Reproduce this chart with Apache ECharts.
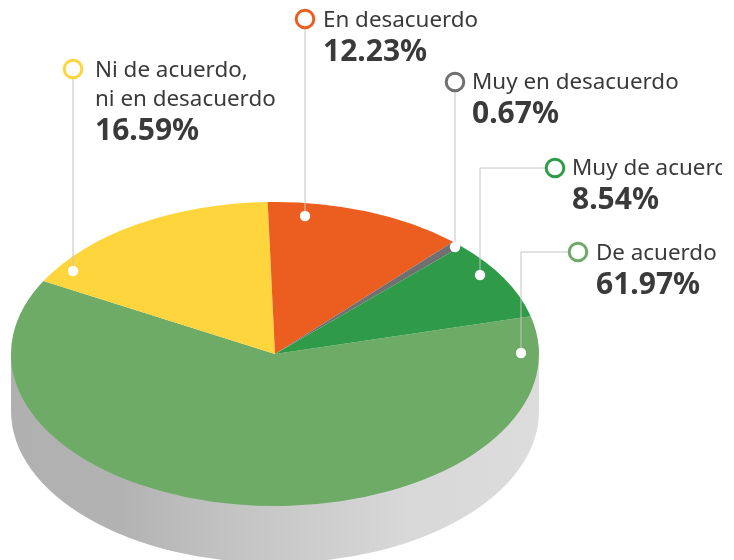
<!DOCTYPE html>
<html>
<head>
<meta charset="utf-8">
<style>
    html, body {margin: 0; padding: 0; background: #fff;}
    #main {width: 734px; height: 560px;}
</style>
<script src="https://cdn.jsdelivr.net/npm/echarts@6/dist/echarts.min.js"></script>
</head>
<body>
<div id="main"></div>
<script>
var categories = ['De acuerdo', 'Ni de acuerdo,\nni en desacuerdo', 'En desacuerdo', 'Muy en desacuerdo', 'Muy de acuerdo'];
var shares = [61.97, 16.59, 12.23, 0.67, 8.54];
var colors = ['#6dab66', '#ffd53d', '#eb5e20', '#707070', '#2f9a48'];

// disco: centro, radios de la elipse y grosor
var cx = 275, cy = 354, rx = 264, ry = 152, depth = 57;
var startDeg = -14.4;

// leader: aro -> (codo) -> punto blanco, en el mismo orden que categories
var callouts = [
    {ring: [578, 252], elbow: [521, 252], dot: [521, 353], textX: 596, textY: 254},
    {ring: [73, 69], dot: [73, 271], textX: 95, textY: 71},
    {ring: [305, 19], dot: [305, 216], textX: 323, textY: 21},
    {ring: [455, 82], dot: [455, 247], textX: 472, textY: 83},
    {ring: [555, 168], elbow: [480, 168], dot: [480, 275], textX: 572, textY: 169}
];

var fontName = '"Noto Sans"';
var labelColor = '#3a3a3a';
var total = shares.reduce(function (a, b) { return a + b; }, 0);

function renderSlice(params, api) {
    var before = 0;
    for (var i = 0; i < params.dataIndex; i++) before += shares[i];
    var a0 = (startDeg + before / total * 360) * Math.PI / 180;
    var a1 = a0 + api.value(0) / total * Math.PI * 2;
    return {
        type: 'sector',
        x: cx,
        y: cy,
        scaleY: ry / rx,
        shape: {cx: 0, cy: 0, r0: 0, r: rx, startAngle: a0, endAngle: a1, clockwise: true},
        style: {fill: colors[params.dataIndex]}
    };
}

function renderSide() {
    var sideFill = {
        type: 'linear', x: 0, y: 0, x2: 1, y2: 0,
        colorStops: [
            {offset: 0, color: '#b0b0b0'},
            {offset: 0.2, color: '#b2b2b2'},
            {offset: 0.4, color: '#c2c2c2'},
            {offset: 0.75, color: '#d8d8d8'},
            {offset: 1, color: '#dcdcdc'}
        ]
    };
    return {
        type: 'group',
        children: [
            {
                type: 'sector', x: cx, y: cy + depth, scaleY: ry / rx,
                shape: {cx: 0, cy: 0, r0: 0, r: rx, startAngle: 0, endAngle: Math.PI, clockwise: true},
                style: {fill: sideFill}
            },
            {
                type: 'rect', x: cx, y: cy,
                shape: {x: -rx, y: 0, width: rx * 2, height: depth + 1},
                style: {fill: sideFill}
            }
        ]
    };
}

function buildCallouts() {
    var els = [];
    callouts.forEach(function (c, i) {
        var points = [c.ring];
        if (c.elbow) points.push(c.elbow);
        points.push(c.dot);
        els.push({type: 'polyline', z: 10, shape: {points: points}, style: {stroke: '#c4c4c4', lineWidth: 1, fill: null}});
        els.push({type: 'circle', z: 11, shape: {cx: c.dot[0], cy: c.dot[1], r: 5.2}, style: {fill: '#fff'}});
        els.push({type: 'circle', z: 11, shape: {cx: c.ring[0], cy: c.ring[1], r: 8.8}, style: {fill: '#fff', stroke: colors[i], lineWidth: 3}});

        var lines = categories[i].split('\n');
        lines.forEach(function (line, n) {
            els.push({
                type: 'text', z: 11, x: c.textX, y: c.textY + n * 29,
                style: {text: line, fill: labelColor, font: '22.4px ' + fontName, textVerticalAlign: 'middle'}
            });
        });
        els.push({
            type: 'text', z: 11, x: c.textX, y: c.textY + lines.length * 29 + 2,
            style: {text: shares[i].toFixed(2) + '%', fill: labelColor, font: 'bold 30px ' + fontName, textVerticalAlign: 'middle'}
        });
    });
    // el original viene recortado por la derecha
    els.push({type: 'rect', z: 20, shape: {x: 722, y: 0, width: 12, height: 560}, style: {fill: '#fff'}});
    return els;
}

var chart = echarts.init(document.getElementById('main'), null, {renderer: 'canvas'});
chart.setOption({
    animation: false,
    backgroundColor: '#fff',
    series: [
        {type: 'custom', coordinateSystem: 'none', z: 1, silent: true, data: [0], renderItem: renderSide},
        {type: 'custom', coordinateSystem: 'none', z: 2, silent: true, data: shares, renderItem: renderSlice}
    ],
    graphic: buildCallouts()
});
</script>
</body>
</html>
